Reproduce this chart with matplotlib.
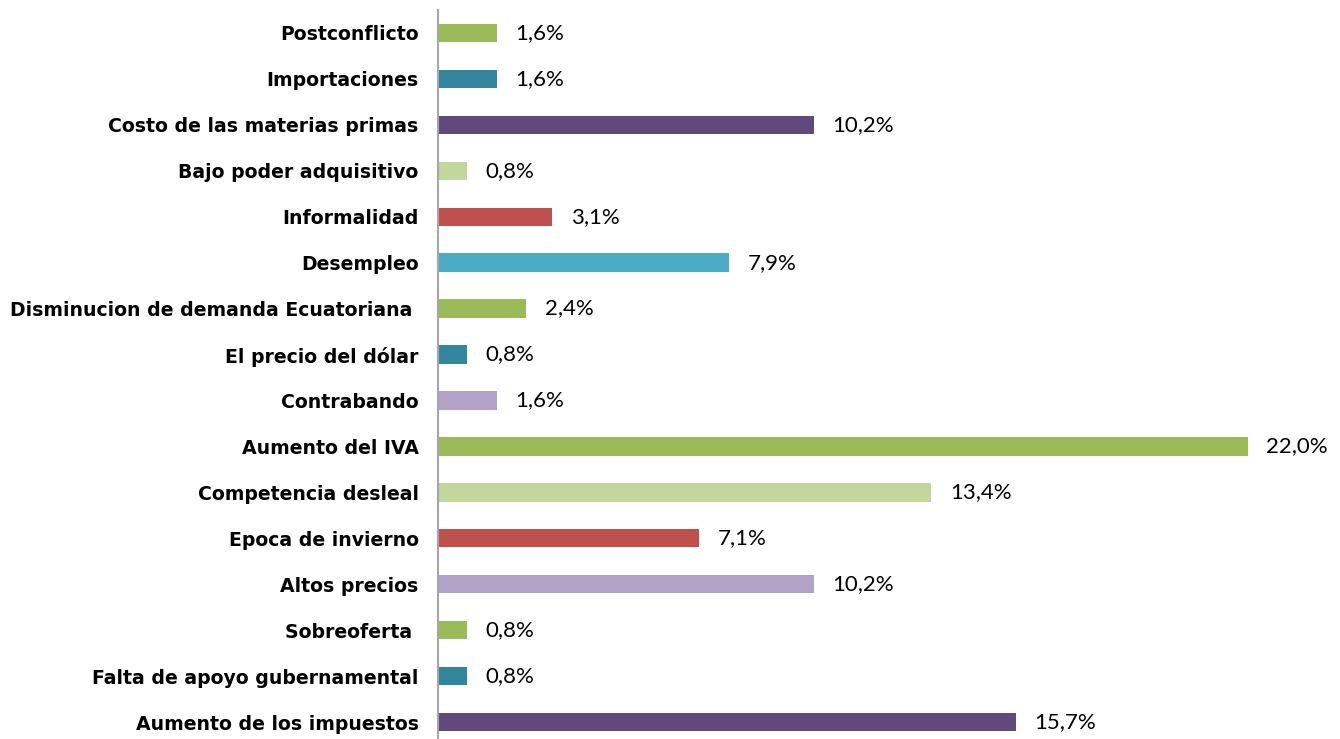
import matplotlib
matplotlib.use("Agg")
import matplotlib.pyplot as plt

categories = [
    "Postconflicto",
    "Importaciones",
    "Costo de las materias primas",
    "Bajo poder adquisitivo",
    "Informalidad",
    "Desempleo",
    "Disminucion de demanda Ecuatoriana ",
    "El precio del dólar",
    "Contrabando",
    "Aumento del IVA",
    "Competencia desleal",
    "Epoca de invierno",
    "Altos precios",
    "Sobreoferta ",
    "Falta de apoyo gubernamental",
    "Aumento de los impuestos",
]
values = [1.6, 1.6, 10.2, 0.8, 3.1, 7.9, 2.4, 0.8, 1.6, 22.0, 13.4, 7.1, 10.2, 0.8, 0.8, 15.7]
bar_colors = [
    "#9BBB59", "#31859C", "#604A7B", "#C3D69B", "#C0504D", "#4BACC6",
    "#9BBB59", "#31859C", "#B3A2C7", "#9BBB59", "#C3D69B", "#C0504D",
    "#B3A2C7", "#9BBB59", "#31859C", "#604A7B",
]

W, H = 1340, 739
fig = plt.figure(figsize=(W / 100, H / 100), dpi=100)
ax = fig.add_axes([438 / W, 0, 1 - 438 / W, 1 - 10 / H])

pos = list(range(len(categories)))
ax.barh(pos, values, height=0.4, color=bar_colors)

for y, v in zip(pos, values):
    ax.text(v + 0.5, y, f"{v:.1f}%".replace(".", ","), va="center", ha="left",
            fontsize=16, family="Lato", color="black")

ax.set_xlim(0, 24.5)
ax.set_ylim(15.37, -0.5)
ax.set_yticks(pos)
ax.set_yticklabels(categories, fontsize=13.6, fontweight="bold", family="DejaVu Sans")
ax.tick_params(axis="y", length=0, pad=14)
ax.set_xticks([])
for side in ["top", "right", "bottom"]:
    ax.spines[side].set_visible(False)
ax.spines["left"].set_color("#A6A6A6")
ax.spines["left"].set_linewidth(1.5)

fig.savefig("out.png", dpi=100)
